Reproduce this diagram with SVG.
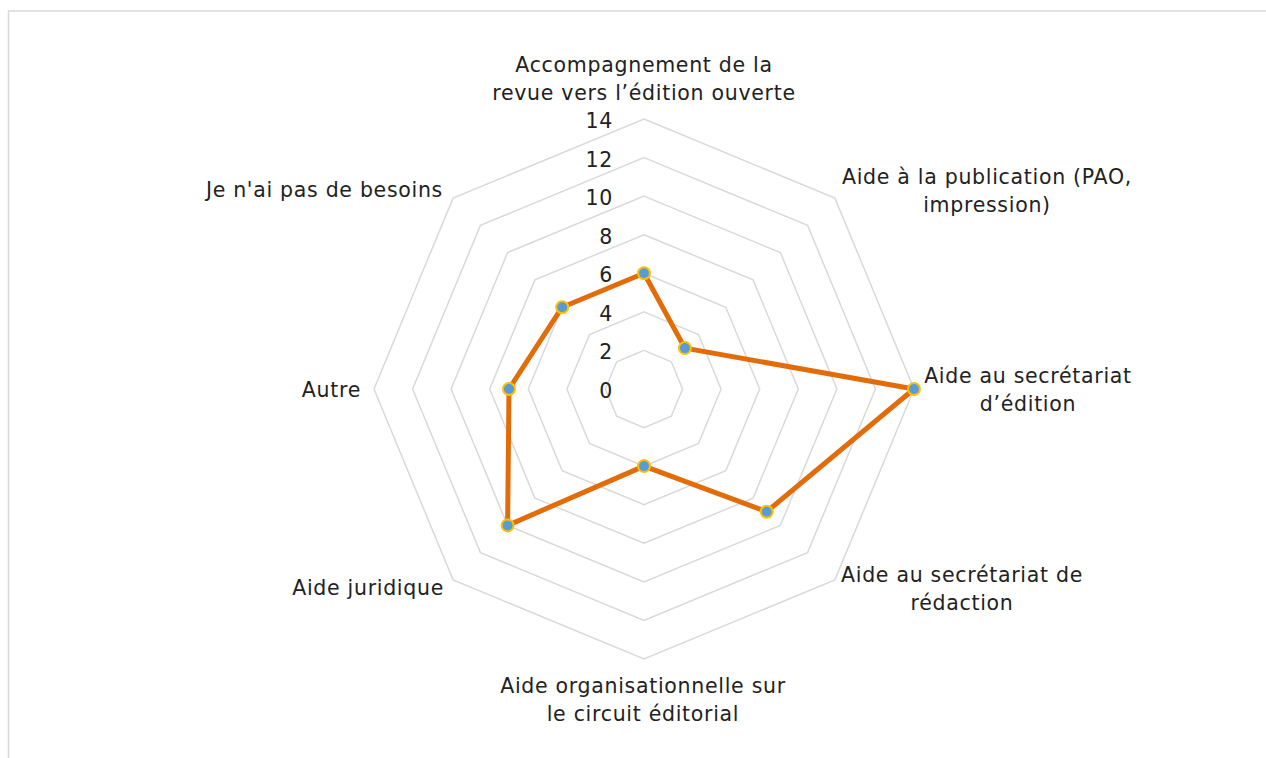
<svg xmlns="http://www.w3.org/2000/svg" width="1266" height="758" viewBox="0 0 1266 758">
<style>
  .grid{fill:none;stroke:#d9d9d9;stroke-width:1.5}
  .lbl{font-family:"DejaVu Sans","Liberation Sans",sans-serif;font-size:20.5px;letter-spacing:0.7px;fill:#222222}
  .tick{font-family:"DejaVu Sans","Liberation Sans",sans-serif;font-size:20.5px;letter-spacing:0.7px;fill:#222222;text-anchor:end}
  .mid{text-anchor:middle}
  .end{text-anchor:end}
  .series{fill:none;stroke:#e36c0a;stroke-width:5;stroke-linejoin:round}
  .pt{fill:#5b9bd5;stroke:#ffc000;stroke-width:2}
</style>
<rect x="0" y="0" width="1266" height="758" fill="#ffffff"/>
<rect x="8.5" y="11" width="1320" height="800" fill="none" stroke="#d9d9d9" stroke-width="1.5"/>
<g id="grid">
  <polygon class="grid" points="644,119 834.9,198.1 914,389 834.9,579.9 644,659 453.1,579.9 374,389 453.1,198.1"/>
  <polygon class="grid" points="644,157.6 807.6,225.4 875.4,389 807.6,552.6 644,620.4 480.4,552.6 412.6,389 480.4,225.4"/>
  <polygon class="grid" points="644,196.1 780.4,252.6 836.9,389 780.4,525.4 644,581.9 507.6,525.4 451.1,389 507.6,252.6"/>
  <polygon class="grid" points="644,234.7 753.1,279.9 798.3,389 753.1,498.1 644,543.3 534.9,498.1 489.7,389 534.9,279.9"/>
  <polygon class="grid" points="644,273.3 725.8,307.2 759.7,389 725.8,470.8 644,504.7 562.2,470.8 528.3,389 562.2,307.2"/>
  <polygon class="grid" points="644,311.9 698.5,334.5 721.1,389 698.5,443.5 644,466.1 589.5,443.5 566.9,389 589.5,334.5"/>
  <polygon class="grid" points="644,350.4 671.3,361.7 682.6,389 671.3,416.3 644,427.6 616.7,416.3 605.4,389 616.7,361.7"/>
</g>
<g id="ticks">
  <text class="tick" x="613" y="128">14</text>
  <text class="tick" x="613" y="166.6">12</text>
  <text class="tick" x="613" y="205.1">10</text>
  <text class="tick" x="613" y="243.7">8</text>
  <text class="tick" x="613" y="282.3">6</text>
  <text class="tick" x="613" y="320.9">4</text>
  <text class="tick" x="613" y="359.4">2</text>
  <text class="tick" x="613" y="398">0</text>
</g>
<g id="connectors">
  <polygon class="series" points="644,273.3 684.9,348.1 914,389 766.7,511.7 644,466.1 507.6,525.4 509,389 562.2,307.2"/>
</g>
<g id="node-accompagnement">
  <circle class="pt" cx="644" cy="273.3" r="6"/>
  <text class="lbl mid" x="644" y="72">Accompagnement de la</text>
  <text class="lbl mid" x="644" y="100">revue vers l’édition ouverte</text>
</g>
<g id="node-publication">
  <circle class="pt" cx="684.9" cy="348.1" r="6"/>
  <text class="lbl mid" x="987" y="184">Aide à la publication (PAO,</text>
  <text class="lbl mid" x="987" y="212">impression)</text>
</g>
<g id="node-secretariat-edition">
  <circle class="pt" cx="914" cy="389" r="6"/>
  <text class="lbl mid" x="1028" y="383">Aide au secrétariat</text>
  <text class="lbl mid" x="1028" y="411">d’édition</text>
</g>
<g id="node-secretariat-redaction">
  <circle class="pt" cx="766.7" cy="511.7" r="6"/>
  <text class="lbl mid" x="962" y="582">Aide au secrétariat de</text>
  <text class="lbl mid" x="962" y="610">rédaction</text>
</g>
<g id="node-organisationnelle">
  <circle class="pt" cx="644" cy="466.1" r="6"/>
  <text class="lbl mid" x="643" y="693">Aide organisationnelle sur</text>
  <text class="lbl mid" x="643" y="721">le circuit éditorial</text>
</g>
<g id="node-juridique">
  <circle class="pt" cx="507.6" cy="525.4" r="6"/>
  <text class="lbl end" x="444" y="595">Aide juridique</text>
</g>
<g id="node-autre">
  <circle class="pt" cx="509" cy="389" r="6"/>
  <text class="lbl end" x="361" y="397">Autre</text>
</g>
<g id="node-besoins">
  <circle class="pt" cx="562.2" cy="307.2" r="6"/>
  <text class="lbl end" x="443" y="197">Je n'ai pas de besoins</text>
</g>
</svg>
